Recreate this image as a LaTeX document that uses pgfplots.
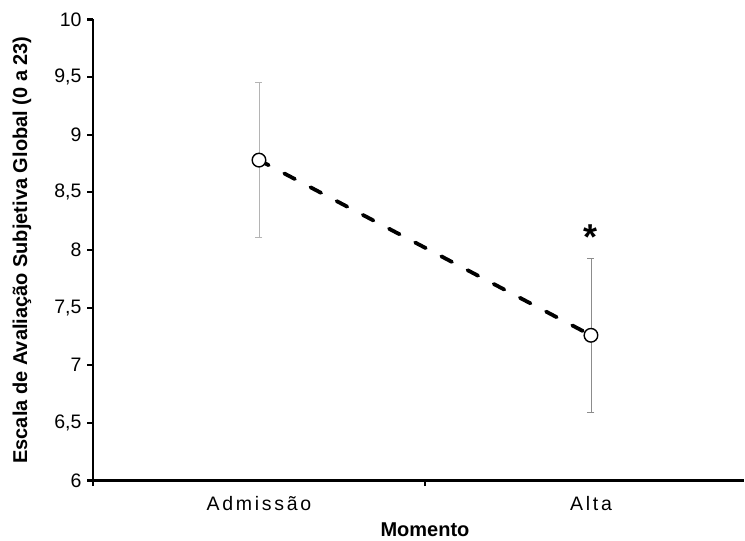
\documentclass[border=0pt]{standalone}
\usepackage{fontspec}
\setmainfont{Liberation Sans}
\newfontfamily\spaced[LetterSpace=14]{Liberation Sans}
\usepackage{pgfplots}
\pgfplotsset{compat=1.18}
\definecolor{ebA}{HTML}{B4B4B4}
\definecolor{ebB}{HTML}{8C8C8C}
\begin{document}
\begin{tikzpicture}
\begin{axis}[
  scale only axis, width=651pt, height=461pt,
  xmin=0, xmax=1.961, ymin=6, ymax=10,
  axis lines=left,
  x axis line style={-, line width=2.6pt},
  y axis line style={-, line width=2.6pt},
  tick align=outside, major tick length=5.5pt,
  tick style={line width=2.2pt, black},
  xtick={0,1}, xticklabels={},
  extra x ticks={0.5,1.5},
  extra x tick labels={{\spaced Admissão},{\spaced Alta}},
  extra x tick style={major tick length=0pt, tick style={draw=none},
    xticklabel style={anchor=base, yshift=-30pt}},
  ytick={6,6.5,7,7.5,8,8.5,9,9.5,10},
  yticklabel style={/pgf/number format/use comma, /pgf/number format/fixed, xshift=-2.5pt},
  /pgf/number format/assume math mode=true,
  tick label style={font=\fontsize{19.5}{22}\selectfont},
  xlabel={Momento},
  ylabel={Escala de Avaliação Subjetiva Global (0 a 23)},
  every axis x label/.style={at={(axis cs:1,6)}, anchor=base, yshift=-56pt,
    font=\fontsize{20}{23}\selectfont\bfseries},
  every axis y label/.style={at={(rel axis cs:0,0.5)}, xshift=-71pt, rotate=90, anchor=center,
    font=\fontsize{20}{23}\selectfont\bfseries},
  clip=false,
]
\addplot[draw=none, mark=none, forget plot,
  error bars/.cd, y dir=both, y explicit,
  error bar style={color=ebA, line width=0.9pt},
  error mark options={rotate=90, mark size=3.5pt, line width=0.9pt, color=ebA}]
  coordinates {(0.5,8.78) +- (0,0.67)};
\addplot[draw=none, mark=none, forget plot,
  error bars/.cd, y dir=both, y explicit,
  error bar style={color=ebB, line width=0.9pt},
  error mark options={rotate=90, mark size=3.5pt, line width=0.9pt, color=ebB}]
  coordinates {(1.5,7.26) +- (0,0.67)};
\addplot[black, line width=3.8pt, line cap=round, dash pattern=on 12pt off 17.6pt, dash phase=1pt,
  mark=*, mark size=6.8pt,
  mark options={solid, fill=white, draw=black, line width=1.4pt}]
  coordinates {(0.5,8.78) (1.5,7.26)};
\node[font=\fontsize{36}{40}\selectfont\bfseries, anchor=base] at (axis cs:1.5,8.0) {*};
\end{axis}
\pgfresetboundingbox
\path ([shift={(-93pt,-60.3pt)}]current axis.south west) rectangle ([shift={(1pt,19.5pt)}]current axis.north east);
\end{tikzpicture}
\end{document}
